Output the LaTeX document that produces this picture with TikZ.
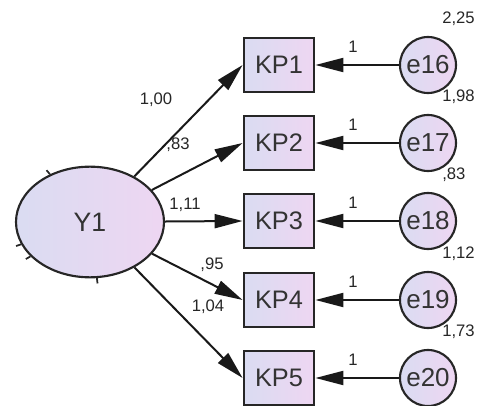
\documentclass[tikz,border=0pt]{standalone}
\usepackage{fontspec}
\setmainfont{Liberation Sans}
\usetikzlibrary{arrows.meta,shapes.geometric}

\definecolor{lavL}{RGB}{218,220,242}
\definecolor{lavR}{RGB}{238,214,242}

\tikzset{
    obs/.style={draw=black!85, line width=1.6pt, left color=lavL, right color=lavR,
        minimum width=53pt, minimum height=40pt, inner sep=0pt,
        text=black!80, font=\fontsize{19}{21}\selectfont},
    err/.style={circle, draw=black!85, line width=1.6pt, left color=lavL, right color=lavR,
        minimum size=42pt, inner sep=0pt, text=black!80, font=\fontsize{19.5}{21}\selectfont},
    lat/.style={ellipse, draw=black!85, line width=1.6pt, left color=lavL, right color=lavR,
        minimum width=111pt, minimum height=83pt, inner sep=0pt,
        text=black!80, font=\fontsize{20}{22}\selectfont},
    path/.style={line width=1.5pt, black!90, -{Triangle[length=21pt,width=10.5pt]}},
    est/.style={text=black!85, inner sep=0pt, font=\fontsize{12.5}{14}\selectfont}
}

\begin{document}
\begin{tikzpicture}[x=0.75pt,y=-0.75pt]
    \useasboundingbox (0,0) rectangle (483,406);

    \node[lat] (Y1) at (90,222) {Y1};
    % little stubs left on the outline of Y1
    \foreach \a in {130,198,210,277}
        \draw[line width=1.3pt,black!85] (Y1.\a) -- ++(\a:4pt);

    % indicators, their errors and the estimates
    \foreach \k/\yy/\en/\var/\est/\lx/\ly in {
        1/65/16/{2,25}/{1,00}/156/100,
        2/143/17/{1,98}/{,83}/178/145,
        3/221/18/{,83}/{1,11}/185/205,
        4/300/19/{1,12}/{,95}/212/265,
        5/378/20/{1,73}/{1,04}/208/307}
    {
        \node[obs] (KP\k) at (279,\yy) {KP\k};
        \node[err] (e\en) at (428,\yy) {e\en};
        \draw[path] (e\en) -- (KP\k);
        \draw[path] (Y1) -- (KP\k.west);
        \node[est] (one\k) at (353,\yy-18) {1};
        \node[est,anchor=west] (var\k) at (442,\yy-46) {\var};
        \node[est] (load\k) at (\lx,\ly) {\est};
    }
\end{tikzpicture}
\end{document}
